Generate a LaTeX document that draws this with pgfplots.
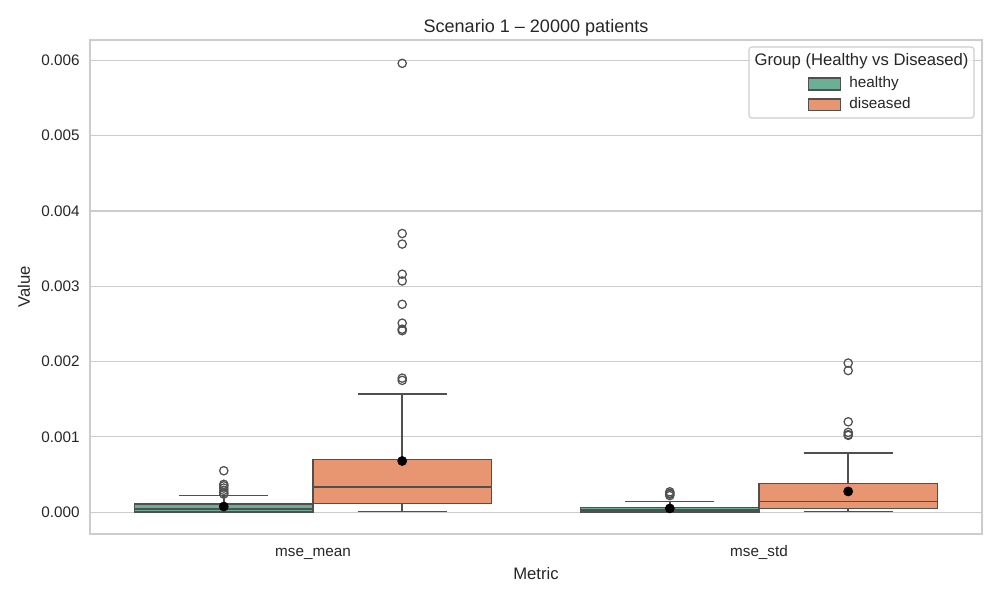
\documentclass[border=0pt]{standalone}
\usepackage{fontspec}
\setmainfont{Liberation Sans}
\usepackage{pgfplots}
\pgfplotsset{compat=1.18}
\usepgfplotslibrary{statistics}
\definecolor{healthy}{RGB}{106,176,148}
\definecolor{diseased}{RGB}{232,149,114}
\definecolor{edgegray}{RGB}{80,80,80}
\definecolor{gridgray}{RGB}{204,204,204}
\definecolor{txt}{RGB}{38,38,38}
\pgfplotsset{patch legend/.style={legend image code/.code={\draw[##1] (0pt,-4.3pt) rectangle (23pt,4.3pt);}}}

\begin{document}
\begin{tikzpicture}
\useasboundingbox (-64.8pt,-47.52pt) rectangle (655.2pt,384.48pt);
% values are in units of 0.001
\begin{axis}[
  at={(0pt,0pt)}, anchor=south west,
  scale only axis, width=642.24pt, height=355.68pt,
  xmin=-0.5, xmax=1.5, ymin=-0.29, ymax=6.27,
  xtick={0,1}, xticklabels={mse\_mean, mse\_std},
  ytick={0,1,2,3,4,5,6},
  yticklabels={0.000,0.001,0.002,0.003,0.004,0.005,0.006},
  major tick length=0pt,
  ymajorgrids, grid style={gridgray, line width=0.8pt},
  axis line style={gridgray, line width=1pt},
  tick label style={font=\fontsize{11}{13}\selectfont, text=txt},
  yticklabel style={xshift=-4pt},
  xticklabel style={anchor=base, yshift=-16.5pt},
  xlabel={Metric}, ylabel={Value},
  label style={font=\fontsize{12}{14}\selectfont, text=txt},
  xlabel style={at={(axis description cs:0.5,-0.081)}, anchor=center},
  ylabel style={at={(axis description cs:-0.074,0.5)}, anchor=center},
  title={Scenario 1 – 20000 patients},
  every axis title shift=0pt,
  title style={font=\fontsize{13}{15}\selectfont, text=txt, at={(axis description cs:0.5,1.024)}, anchor=center},
  boxplot/draw direction=y,
  boxplot/every box/.style={line width=1.2pt},
  boxplot/every whisker/.style={line width=1.2pt},
  boxplot/every median/.style={line width=1.2pt},
  legend style={at={(axis description cs:0.805,0.926)}, anchor=north west,
    draw=none, fill=none, inner sep=0pt, row sep=4.8pt, column sep=5.8pt,
    nodes={inner sep=0pt, text height=8pt, text depth=2.3pt, text=txt},
    font=\fontsize{11}{13}\selectfont},
  legend cell align=left,
]
% boxes: healthy at -0.2 / 0.8, diseased at 0.2 / 1.2
\addplot[boxplot prepared={draw position=-0.2, box extend=0.4, whisker extend=0.2,
  lower whisker=0.0, lower quartile=0.005, median=0.04,
  upper quartile=0.106, upper whisker=0.22},
  fill=healthy, draw=edgegray, forget plot] coordinates {};
\addplot[boxplot prepared={draw position=0.2, box extend=0.4, whisker extend=0.2,
  lower whisker=0.01, lower quartile=0.115, median=0.33,
  upper quartile=0.70, upper whisker=1.57},
  fill=diseased, draw=edgegray, forget plot] coordinates {};
\addplot[boxplot prepared={draw position=0.8, box extend=0.4, whisker extend=0.2,
  lower whisker=0.0, lower quartile=0.005, median=0.03,
  upper quartile=0.062, upper whisker=0.14},
  fill=healthy, draw=edgegray, forget plot] coordinates {};
\addplot[boxplot prepared={draw position=1.2, box extend=0.4, whisker extend=0.2,
  lower whisker=0.01, lower quartile=0.05, median=0.14,
  upper quartile=0.38, upper whisker=0.79},
  fill=diseased, draw=edgegray, forget plot] coordinates {};
% outliers
\addplot[only marks, mark=o, mark size=3pt, mark options={draw=edgegray, line width=0.9pt}, forget plot]
  coordinates {
  (-0.2,0.55) (-0.2,0.37) (-0.2,0.35) (-0.2,0.32) (-0.2,0.29) (-0.2,0.26) (-0.2,0.24)
  (0.2,5.96) (0.2,3.70) (0.2,3.56) (0.2,3.16) (0.2,3.07) (0.2,2.76)
  (0.2,2.51) (0.2,2.43) (0.2,2.41) (0.2,1.78) (0.2,1.75)
  (0.8,0.27) (0.8,0.25) (0.8,0.24) (0.8,0.22)
  (1.2,1.98) (1.2,1.88) (1.2,1.20) (1.2,1.06) (1.2,1.03) (1.2,1.02)
  };
% means
\addplot[only marks, mark=*, mark size=3.3pt, black, forget plot]
  coordinates {(-0.2,0.075) (0.2,0.68) (0.8,0.05) (1.2,0.275)};
% legend frame and title
\draw[gridgray, fill=white, fill opacity=0.8, rounded corners=2pt, line width=0.8pt]
  (axis description cs:0.7388,0.8421) rectangle (axis description cs:0.9910,0.9858);
\node[font=\fontsize{12}{14}\selectfont, text=txt] at (axis description cs:0.865,0.9575) {Group (Healthy vs Diseased)};
\addlegendimage{patch legend, fill=healthy, draw=edgegray, line width=0.8pt}
\addlegendentry{healthy}
\addlegendimage{patch legend, fill=diseased, draw=edgegray, line width=0.8pt}
\addlegendentry{diseased}
\end{axis}
\end{tikzpicture}
\end{document}
